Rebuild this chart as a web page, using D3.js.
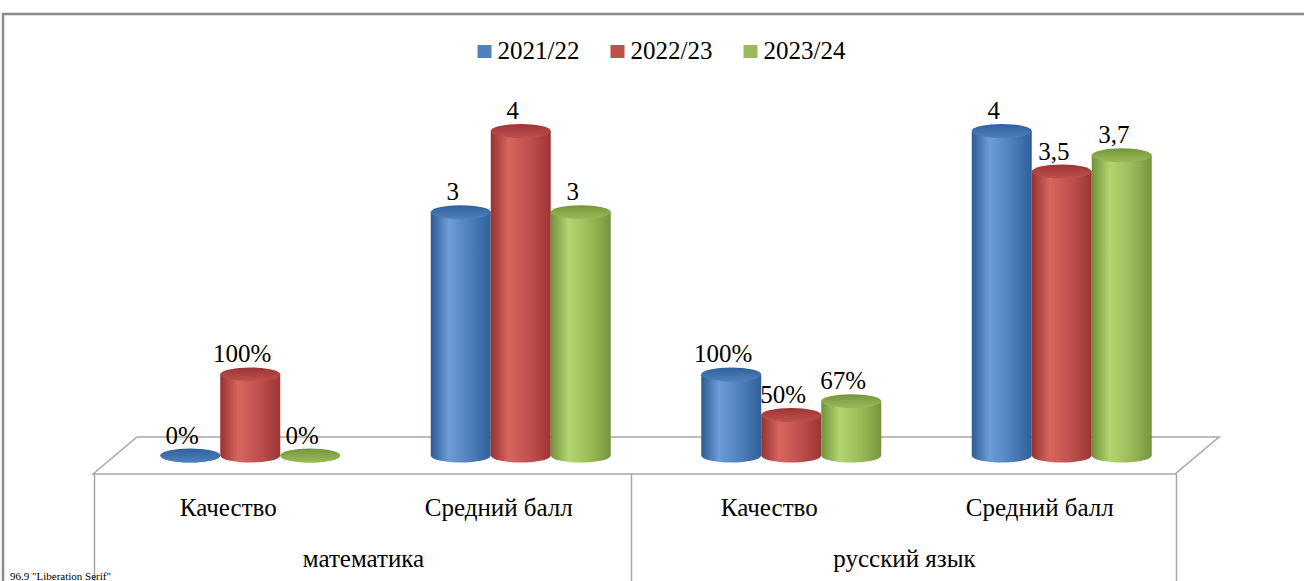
<!DOCTYPE html>
<meta charset="utf-8">
<body style="margin:0">
<script src="https://d3js.org/d3.v7.min.js"></script>
<script>
// categories (in axis order) and their parent groups
var subjects = ["математика", "русский язык"];
var measures = ["Качество", "Средний балл"];
var series = ["2021/22", "2022/23", "2023/24"];
var colors = ["#4f81bd", "#c0504d", "#9bbb59"];

// values per series, order: мат/Качество, мат/Средний балл, рус/Качество, рус/Средний балл
var s2021 = [0, 3, 1, 4];
var s2022 = [1, 4, 0.5, 3.5];
var s2023 = [0, 3, 0.67, 3.7];
var values = [s2021, s2022, s2023];

var width = 1304, height = 581;
var FONT = "'Liberation Serif'";

var cats = [];
subjects.forEach(function (s) { measures.forEach(function (m) { cats.push(s + "|" + m); }); });

var svg = d3.select("body").append("svg")
    .attr("width", width).attr("height", height);

// gradients for cylinders
var defs = svg.append("defs");
var shades = [
  ["#2d5b94", "#6d9cd8", "#4f81bd", "#30609c"],
  ["#973330", "#d8655f", "#c0504d", "#9c3633"],
  ["#71903a", "#b3d571", "#9bbb59", "#75953d"]
];
shades.forEach(function (c, i) {
  var g = defs.append("linearGradient").attr("id", "side" + i)
      .attr("x1", "0").attr("x2", "1").attr("y1", "0").attr("y2", "0");
  g.append("stop").attr("offset", "0").attr("stop-color", c[0]);
  g.append("stop").attr("offset", "0.3").attr("stop-color", c[1]);
  g.append("stop").attr("offset", "0.65").attr("stop-color", c[2]);
  g.append("stop").attr("offset", "1").attr("stop-color", c[3]);
  var t = defs.append("linearGradient").attr("id", "top" + i)
      .attr("x1", "0").attr("x2", "0").attr("y1", "0").attr("y2", "1");
  t.append("stop").attr("offset", "0").attr("stop-color", c[3]);
  t.append("stop").attr("offset", "1").attr("stop-color", c[2]);
});

// outer border
svg.append("path")
    .attr("d", "M3," + height + "V14H" + width)
    .attr("fill", "none").attr("stroke", "#8c8c8c").attr("stroke-width", 2.5);

// front plane scale
var x0 = d3.scaleBand().domain(cats).range([93, 1175]);
var xs = d3.scaleBand().domain(subjects).range([93, 1175]);
var depthX = 44, depthY = 37, floorY = 474;
var midX = depthX / 2, baseY = floorY - depthY / 2;

var y = d3.scaleLinear().domain([0, 4]).range([baseY, 131]);

var x1 = d3.scaleBand().domain(series).range([0, 180]);
var rx = x1.bandwidth() / 2, ry = 7;

// floor
var floor = svg.append("g")
    .attr("stroke", "#a6a6a6").attr("stroke-width", 1.5);
floor.append("path")
    .attr("d", "M" + 93 + "," + floorY + "L" + (93 + depthX) + "," + (floorY - depthY) +
      "H" + (1175 + depthX) + "L" + 1175 + "," + floorY + "Z")
    .attr("fill", "#fff");
[93, xs("русский язык") - 4, 1175].forEach(function (xx) {
  floor.append("line").attr("x1", xx + 1.5).attr("x2", xx + 1.5)
      .attr("y1", floorY).attr("y2", height);
});

// cylinders
var plot = svg.append("g");
var marks = [];
cats.forEach(function (c, ci) {
  series.forEach(function (s, si) {
    marks.push({ cat: c, ci: ci, si: si, v: values[si][ci] });
  });
});

function cx(d) {
  return x0(d.cat) + x0.bandwidth() / 2 + midX - 90 + x1(series[d.si]) + rx;
}

var cyl = plot.selectAll("g.cyl").data(marks).enter().append("g").attr("class", "cyl");
cyl.append("path")
    .attr("d", function (d) {
      var x = cx(d), yt = y(d.v);
      return "M" + (x - rx) + "," + yt + "V" + baseY +
        "A" + rx + "," + ry + " 0 0 0 " + (x + rx) + "," + baseY +
        "V" + yt + "Z";
    })
    .attr("fill", function (d) { return "url(#side" + d.si + ")"; });
cyl.append("ellipse")
    .attr("cx", cx)
    .attr("cy", function (d) { return y(d.v); })
    .attr("rx", rx).attr("ry", ry)
    .attr("fill", function (d) { return "url(#top" + d.si + ")"; });

// data labels
function fmt(d) {
  if (d.cat.split("|")[1] === "Качество") return Math.round(d.v * 100) + "%";
  return String(d.v).replace(".", ",");
}
function addText(parent, x, yy, txt, anchor) {
  return parent.append("text")
      .attr("x", x).attr("y", yy)
      .attr("text-anchor", anchor || "middle")
      .style("font-family", FONT).style("font-size", "25px")
      .text(txt);
}
marks.forEach(function (d) {
  addText(svg, cx(d) - 8, y(d.v) - ry - 5, fmt(d));
});

// category labels
cats.forEach(function (c) {
  addText(svg, x0(c) + x0.bandwidth() / 2, 516, c.split("|")[1]);
});
subjects.forEach(function (s) {
  addText(svg, xs(s) + xs.bandwidth() / 2, 567, s);
});

// legend
var lx = 663 - (3 * 105 + 2 * 28) / 2;
series.forEach(function (s, i) {
  svg.append("rect").attr("x", lx).attr("y", 45).attr("width", 14).attr("height", 13)
      .attr("fill", colors[i]);
  addText(svg, lx + 20, 59, s, "start");
  lx += 20 + 85 + 28;
});

// temporary check
var probe = svg.selectAll("text").nodes()[12];
svg.append("text").attr("x", 10).attr("y", 580).style("font-size", "11px")
  .text(probe.getComputedTextLength().toFixed(1) + " " + getComputedStyle(probe).fontFamily);
</script>
</body>
